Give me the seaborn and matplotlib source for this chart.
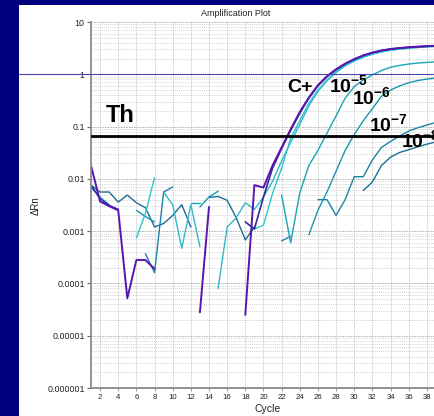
import numpy as np
import pandas as pd
import matplotlib
matplotlib.use("Agg")
import matplotlib.pyplot as plt
import seaborn as sns
from matplotlib import transforms
from matplotlib.patches import Rectangle
from matplotlib.ticker import LogLocator, NullFormatter

N = np.nan

# ---------------- data (Delta Rn per cycle 1..40, NaN = not shown) ----------------
cycles = list(range(1, 41))

cplus_a = [0.018, 0.0037, 0.0030, 0.0025, 5.2e-5, 2.8e-4, 2.8e-4, 1.9e-4, N, N,
           N, N, 2.8e-5, 0.0029, N, N, N, 2.5e-5, 0.0076, 0.0068,
           0.018, 0.04, 0.089, 0.19, 0.36, 0.62, 0.92, 1.25, 1.6, 1.95,
           2.3, 2.6, 2.85, 3.05, 3.18, 3.3, 3.38, 3.45, 3.52, 3.58]
cplus_b = [0.0075, 0.0042, 0.0031, 0.0026, N, N, N, N, N, N,
           N, N, N, N, N, N, N, 0.0015, 0.0011, 0.0045,
           0.016, 0.038, 0.085, 0.18, 0.35, 0.6, 0.9, 1.22, 1.58, 1.93,
           2.28, 2.58, 2.83, 3.02, 3.16, 3.27, 3.36, 3.43, 3.5, 3.56]
cplus_c = [0.0068, 0.0045, 0.0032, N, N, 7.4e-4, 0.0022, 0.0105, N, N,
           N, N, N, N, N, N, N, N, 0.0011, 0.0013,
           0.0053, 0.016, 0.06, 0.13, 0.28, 0.5, 0.78, 1.12, 1.48, 1.82,
           2.15, 2.45, 2.7, 2.9, 3.05, 3.17, 3.27, 3.36, 3.43, 3.5]
cplus_d = [N, N, N, N, N, N, N, N, 0.0056, 0.0032,
           4.7e-4, 0.0032, 5e-4, N, 8e-5, 0.0012, 0.0018, 0.0035, 0.0026, 0.0045,
           0.009, 0.022, 0.05, 0.11, 0.25, 0.47, 0.75, 1.08, 1.45, 1.8,
           2.12, 2.42, 2.68, 2.88, 3.03, 3.15, 3.25, 3.34, 3.42, 3.48]
neg5 = [N, N, N, N, N, N, N, N, N, N,
        N, 0.0034, 0.0034, N, N, N, N, N, N, N,
        N, 0.0049, 0.0006, 0.0054, 0.018, 0.035, 0.075, 0.16, 0.35, 0.58,
        0.78, 0.97, 1.18, 1.36, 1.48, 1.57, 1.64, 1.69, 1.73, 1.76]
neg6 = [N, N, N, N, N, 0.0025, 0.0019, 0.0015, N, N,
        N, N, 0.0029, 0.0045, 0.0058, N, N, N, N, N,
        N, N, N, N, 8.5e-4, 0.0025, 0.0056, 0.014, 0.035, 0.07,
        0.13, 0.22, 0.38, 0.5, 0.6, 0.69, 0.76, 0.81, 0.85, 0.88]
neg7 = [N, N, N, N, N, N, 3.7e-4, 1.6e-4, 0.0056, 0.007,
        N, N, N, N, N, N, N, N, N, N,
        N, 6.5e-4, 8e-4, N, N, 0.004, 0.004, 0.002, 0.004, 0.011,
        0.011, 0.023, 0.04, 0.052, 0.066, 0.082, 0.095, 0.107, 0.12, 0.128]
neg8 = [0.0076, 0.0056, 0.0056, 0.0036, 0.0049, 0.0035, 0.0028, 0.0012, 0.0014, 0.002,
        0.0032, 0.0012, N, 0.0044, 0.0046, 0.0039, 0.0018, 6.8e-4, 0.0012, N,
        N, N, N, N, N, N, N, N, N, N,
        0.006, 0.0087, 0.018, 0.026, 0.032, 0.036, 0.041, 0.046, 0.051, 0.054]

threshold = 0.066

series_names = ["neg8", "neg7", "neg6", "neg5", "cplus_d", "cplus_c", "cplus_b", "cplus_a"]
series_values = [neg8, neg7, neg6, neg5, cplus_d, cplus_c, cplus_b, cplus_a]
series_colors = ["#1f6d95", "#1b83a6", "#1996ad", "#19a5b5", "#33b8c8", "#27c7cc", "#2d2a9e", "#5a14b0"]
series_lw = [1.0, 1.0, 1.0, 1.0, 1.0, 1.0, 1.2, 1.4]

x_ticks = list(range(2, 41, 2))
y_ticks = [1e-6, 1e-5, 1e-4, 1e-3, 1e-2, 1e-1, 1, 10]
y_tick_labels = ["0.000001", "0.00001", "0.0001", "0.001", "0.01", "0.1", "1", "10"]

# ---------------- long table with gap-separated segments ----------------
rows = []
seg_id = 0
for name, vals in zip(series_names, series_values):
    prev_nan = True
    for c, v in zip(cycles, vals):
        if v is None or (isinstance(v, float) and np.isnan(v)):
            prev_nan = True
            continue
        if prev_nan:
            seg_id += 1
            prev_nan = False
        rows.append({"cycle": c, "value": v, "series": name, "segment": seg_id})
df = pd.DataFrame(rows)

# ---------------- figure ----------------
sns.set_theme(style="white")
plt.rcParams["font.family"] = ["Liberation Sans", "DejaVu Sans"]
plt.rcParams["mathtext.fontset"] = "custom"
plt.rcParams["mathtext.rm"] = "Liberation Sans:bold"
plt.rcParams["mathtext.it"] = "Liberation Sans:bold"
plt.rcParams["mathtext.bf"] = "Liberation Sans:bold"

W, H = 435, 416
fig = plt.figure(figsize=(W / 100, H / 100), dpi=100, facecolor="#00007f")
panel = Rectangle((19 / W, 0), 1 - 19 / W, 1 - 5 / H, transform=fig.transFigure,
                  facecolor="white", edgecolor="none", zorder=-5)
fig.add_artist(panel)

ax = fig.add_axes([91 / W, (H - 388) / H, (445 - 91) / W, (388 - 22) / H])
ax.set_facecolor("white")
ax.set_yscale("log")

for name, color, lw in zip(series_names, series_colors, series_lw):
    sub = df[df["series"] == name]
    sns.lineplot(data=sub, x="cycle", y="value", units="segment", estimator=None,
                 sort=False, color=color, linewidth=lw, legend=False, ax=ax)

ax.axhline(threshold, color="black", lw=2.0, zorder=6)

ax.set_xlim(1, 40)
ax.set_ylim(1e-6, 10)
ax.set_xticks(x_ticks)
ax.set_xticklabels([str(t) for t in x_ticks])
ax.set_yticks(y_ticks)
ax.set_yticklabels(y_tick_labels)
ax.yaxis.set_minor_locator(LogLocator(base=10, subs=np.arange(2, 10)))
ax.yaxis.set_minor_formatter(NullFormatter())
ax.tick_params(axis="y", which="major", length=3, width=0.8, color="#666666",
               labelsize=6.4, pad=1.5, labelcolor="#222222", left=True)
ax.tick_params(axis="y", which="minor", length=0)
ax.tick_params(axis="x", which="major", length=2, width=0.6, color="#888888",
               labelsize=5.6, pad=2.5, labelcolor="#222222", bottom=True)
ax.set_xlabel("")
ax.set_ylabel("")

ax.set_axisbelow(True)
ax.yaxis.grid(True, which="major", color="#a8a8a8", linestyle=(0, (2, 1.2)), lw=0.6)
ax.yaxis.grid(True, which="minor", color="#c6c6c6", linestyle=(0, (1.5, 1.5)), lw=0.5)
ax.xaxis.grid(True, which="major", color="#bbbbbb", linestyle=(0, (1.5, 1.5)), lw=0.6)

for s in ["top", "right"]:
    ax.spines[s].set_visible(False)
for s in ["left", "bottom"]:
    ax.spines[s].set_color("#8a8a8a")
    ax.spines[s].set_linewidth(1.3)

# blue guide line across the whole panel at 1
blend = transforms.blended_transform_factory(fig.transFigure, ax.transData)
ax.plot([19 / W, 1.0], [1, 1], transform=blend, color="#4646b4", lw=0.8,
        clip_on=False, zorder=7)

# texts
def fpos(px, py):
    return px / W, 1 - py / H

fig.text(*fpos(236, 13), "Amplification Plot", ha="center", va="center",
         fontsize=6.5, color="#222222")
fig.text(*fpos(36, 206), "ΔRn", rotation=90, ha="center", va="center",
         fontsize=7, color="#222222")
fig.text(*fpos(268, 409), "Cycle", ha="center", va="center",
         fontsize=7.5, color="#222222")

big = dict(ha="left", va="baseline", color="black", fontweight="bold", zorder=10)
fig.text(*fpos(106, 122), "Th", fontsize=17, **big)
fig.text(*fpos(287, 92), "C+", fontsize=14, **big)
fig.text(*fpos(329, 92), r"$10^{-5}$", fontsize=14, **big)
fig.text(*fpos(352, 104), r"$10^{-6}$", fontsize=14, **big)
fig.text(*fpos(369, 131), r"$10^{-7}$", fontsize=14, **big)
fig.text(*fpos(401, 147), r"$10^{-8}$", fontsize=14, **big)

fig.savefig("out.png", dpi=100, facecolor=fig.get_facecolor())
